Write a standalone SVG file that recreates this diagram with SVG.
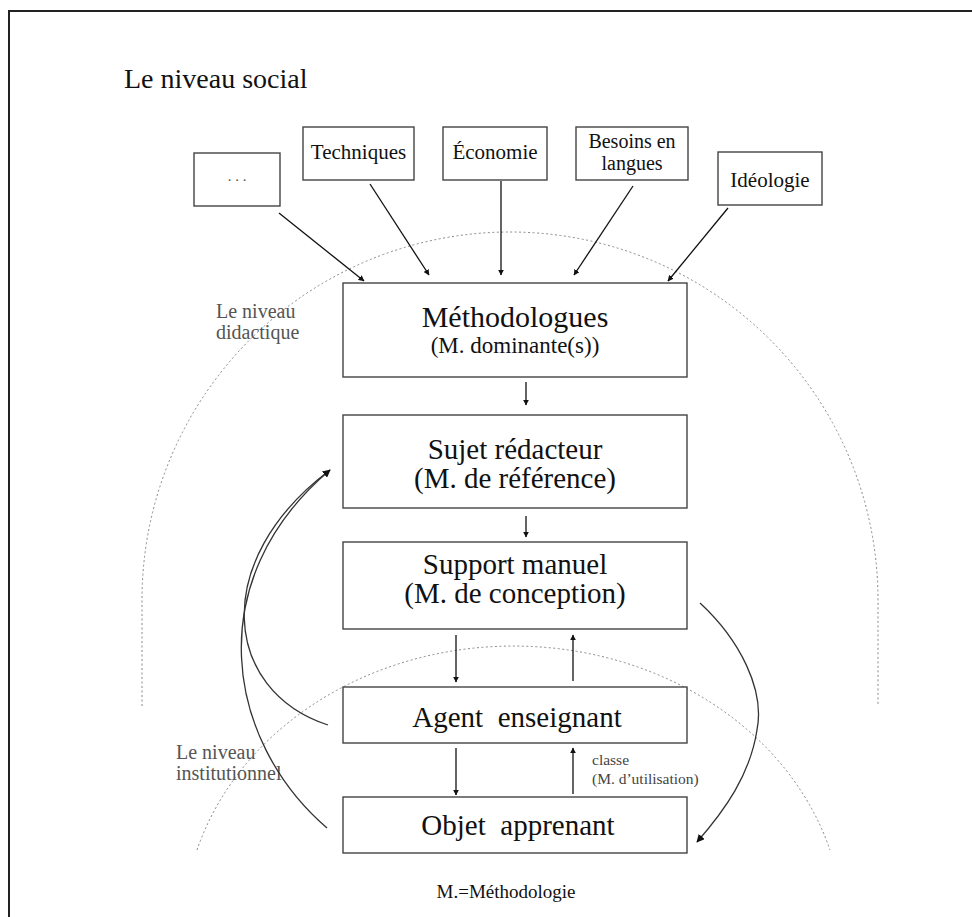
<svg xmlns="http://www.w3.org/2000/svg" width="972" height="917" viewBox="0 0 972 917">
<style>
.box{fill:#fff;stroke:#444;stroke-width:1.4}
.t{font-family:"Liberation Serif","Times New Roman",serif;fill:#111;text-anchor:middle}
.lvl{font-family:"Liberation Serif","Times New Roman",serif;fill:#555;font-size:20px}
.ar{stroke:#111;stroke-width:1.3;fill:none;marker-end:url(#ah)}
.cv{stroke:#333;stroke-width:1.3;fill:none}
.dot{stroke:#888;stroke-width:1;fill:none;stroke-dasharray:2 2.5}
</style>
<defs>
<marker id="ah" viewBox="0 0 10 10" refX="9" refY="5" markerWidth="6" markerHeight="6" orient="auto" markerUnits="userSpaceOnUse">
<path d="M0,0 L10,5 L0,10 z" fill="#111"/>
</marker>
<marker id="ah2" viewBox="0 0 10 10" refX="9" refY="5" markerWidth="8" markerHeight="8" orient="auto" markerUnits="userSpaceOnUse">
<path d="M0,0 L10,5 L0,10 z" fill="#111"/>
</marker>
</defs>
<rect x="0" y="0" width="972" height="917" fill="#fff"/>
<path d="M9 917 V11 H972" fill="none" stroke="#222" stroke-width="2"/>

<g id="levels">
<path class="dot" d="M142 706 L142 600 A368 368 0 0 1 878 600 L878 706"/>
<path class="dot" d="M197 850 A330 284.5 0 0 1 830 850"/>
<text class="lvl" x="124" y="88" style="font-size:28px;fill:#111">Le niveau social</text>
<text class="lvl" x="216" y="318">Le niveau</text>
<text class="lvl" x="216" y="339">didactique</text>
<text class="lvl" x="176" y="759">Le niveau</text>
<text class="lvl" x="176" y="780">institutionnel</text>
</g>

<g id="connectors">
<line class="ar" x1="279" y1="213" x2="364" y2="281"/>
<line class="ar" x1="370" y1="184" x2="429" y2="275"/>
<line class="ar" x1="501" y1="181" x2="501" y2="275"/>
<line class="ar" x1="633" y1="186" x2="574" y2="275"/>
<line class="ar" x1="728" y1="208" x2="668" y2="281"/>
<line class="ar" x1="526" y1="382" x2="526" y2="405"/>
<line class="ar" x1="526" y1="516" x2="526" y2="537"/>
<line class="ar" x1="456" y1="635" x2="456" y2="682"/>
<line class="ar" x1="573" y1="681" x2="573" y2="635"/>
<line class="ar" x1="456" y1="748" x2="456" y2="795"/>
<line class="ar" x1="573" y1="794" x2="573" y2="748"/>
<path class="cv" d="M328 725 C222 690, 210 560, 330 470"/>
<path class="cv" d="M327 828 C225 740, 200 580, 330 470" marker-end="url(#ah2)"/>
<path class="cv" d="M700 603 C740 640, 765 690, 757 730 C750 775, 725 810, 697 842" marker-end="url(#ah2)"/>
<text class="lvl" x="592" y="765" style="font-size:15.5px;fill:#444">classe</text>
<text class="lvl" x="592" y="784" style="font-size:15.5px;fill:#444">(M. d’utilisation)</text>
</g>

<g id="n-dots">
<rect class="box" x="194" y="153" width="86" height="53"/>
<text class="t" x="237" y="181" style="font-size:15px;fill:#555">. . .</text>
</g>
<g id="n-techniques">
<rect class="box" x="303" y="127" width="111" height="53"/>
<text class="t" x="358.5" y="159" font-size="21">Techniques</text>
</g>
<g id="n-economie">
<rect class="box" x="443" y="127" width="104" height="53"/>
<text class="t" x="495" y="159" font-size="21">Économie</text>
</g>
<g id="n-besoins">
<rect class="box" x="576" y="127" width="112" height="53"/>
<text class="t" x="632" y="148" font-size="20">Besoins en</text>
<text class="t" x="632" y="170" font-size="20">langues</text>
</g>
<g id="n-ideologie">
<rect class="box" x="718" y="152" width="104" height="53"/>
<text class="t" x="770" y="187" font-size="21">Idéologie</text>
</g>

<g id="n-methodologues">
<rect class="box" x="343" y="283" width="344" height="94"/>
<text class="t" x="515" y="327" font-size="30">Méthodologues</text>
<text class="t" x="515" y="353" font-size="23">(M. dominante(s))</text>
</g>
<g id="n-sujet">
<rect class="box" x="343" y="415" width="344" height="93"/>
<text class="t" x="515" y="459" font-size="29">Sujet rédacteur</text>
<text class="t" x="515" y="488" font-size="29">(M. de référence)</text>
</g>
<g id="n-support">
<rect class="box" x="343" y="542" width="344" height="87"/>
<text class="t" x="515" y="574" font-size="29">Support manuel</text>
<text class="t" x="515" y="603" font-size="29">(M. de conception)</text>
</g>
<g id="n-agent">
<rect class="box" x="343" y="687" width="344" height="56"/>
<text class="t" x="517" y="727" font-size="29" xml:space="preserve">Agent  enseignant</text>
</g>
<g id="n-objet">
<rect class="box" x="343" y="797" width="344" height="56"/>
<text class="t" x="518" y="835" font-size="29" xml:space="preserve">Objet  apprenant</text>
</g>
<text class="t" x="506" y="898" font-size="19" fill="#222">M.=Méthodologie</text>
</svg>
